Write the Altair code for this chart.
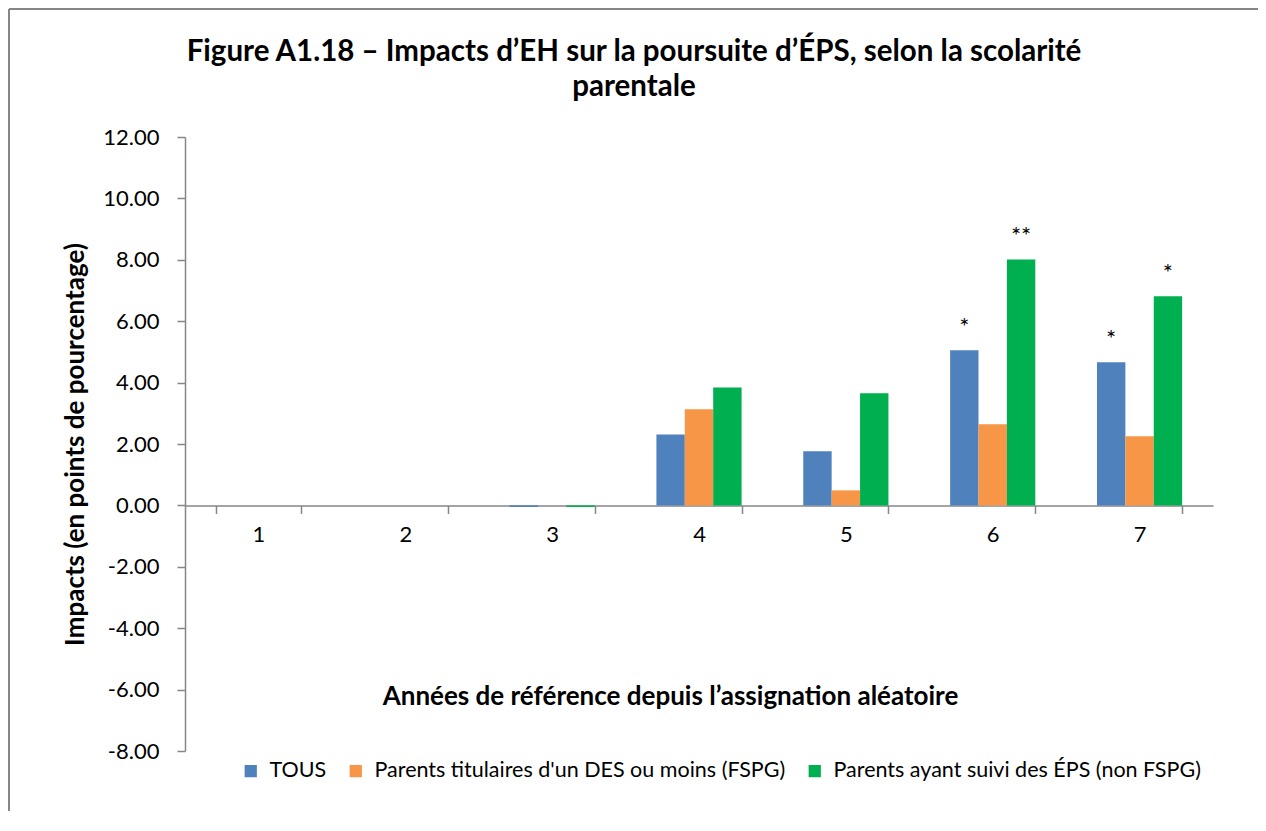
import altair as alt
import pandas as pd

years = ["1", "2", "3", "4", "5", "6", "7"]
series = [
    "TOUS",
    "Parents titulaires d'un DES ou moins (FSPG)",
    "Parents ayant suivi des ÉPS (non FSPG)",
]
tous = [0.0, 0.0, -0.05, 2.31, 1.76, 5.05, 4.66]
fspg = [0.0, 0.0, 0.0, 3.13, 0.49, 2.64, 2.25]
non_fspg = [0.0, 0.0, -0.05, 3.84, 3.65, 8.01, 6.81]
sig_tous = ["", "", "", "", "", "*", "*"]
sig_fspg = ["", "", "", "", "", "", ""]
sig_non_fspg = ["", "", "", "", "", "**", "*"]
colors = ["#4F81BD", "#F79646", "#00B050"]
y_ticks = [-8, -6, -4, -2, 0, 2, 4, 6, 8, 10, 12]
title_lines = [
    "Figure A1.18 – Impacts d’EH sur la poursuite d’ÉPS, selon la scolarité",
    "parentale",
]

rows = []
for s, vals, sigs in zip(series, [tous, fspg, non_fspg], [sig_tous, sig_fspg, sig_non_fspg]):
    for yr, v, sg in zip(years, vals, sigs):
        rows.append({"year": yr, "series": s, "value": v, "sig": sg})
df = pd.DataFrame(rows)

FONT = "Lato"
GRAY = "#868686"

x_enc = alt.X(
    "year:N",
    sort=years,
    scale=alt.Scale(paddingInner=0.42, paddingOuter=0.21),
    axis=alt.Axis(
        orient="bottom",
        offset=-245.6,
        tickBand="extent",
        tickSize=8,
        tickColor=GRAY,
        tickWidth=1.5,
        domainColor=GRAY,
        domainWidth=1.5,
        labelAngle=0,
        labelFontSize=22,
        labelFont=FONT,
        labelColor="black",
        labelPadding=11,
        title="Années de référence depuis l’assignation aléatoire",
        titleFont=FONT,
        titleFontSize=26,
        titleFontWeight="bold",
        titleColor="black",
        titleX=485,
        titleY=191,
        titleAlign="center",
        titleBaseline="middle",
        grid=False,
    ),
)
y_enc = alt.Y(
    "value:Q",
    scale=alt.Scale(domain=[-8, 12], nice=False, zero=False),
    axis=alt.Axis(
        values=y_ticks,
        labelExpr="datum.value < 0 ? '-' + format(-datum.value, '.2f') : format(datum.value, '.2f')",
        tickSize=8,
        tickColor=GRAY,
        tickWidth=1.5,
        domainColor=GRAY,
        domainWidth=1.5,
        labelFontSize=22,
        labelFont=FONT,
        labelColor="black",
        labelPadding=18,
        title="Impacts (en points de pourcentage)",
        titleFont=FONT,
        titleFontSize=26,
        titleFontWeight="bold",
        titleColor="black",
        titleX=-110,
        titleY=307,
        titleAlign="center",
        titleBaseline="middle",
        grid=False,
    ),
)
xoff = alt.XOffset("series:N", sort=series, scale=alt.Scale(domain=series))

bars = alt.Chart(df).mark_bar().encode(
    x=x_enc,
    y=y_enc,
    xOffset=xoff,
    color=alt.Color(
        "series:N",
        sort=series,
        scale=alt.Scale(domain=series, range=colors),
        legend=alt.Legend(
            orient="none",
            legendX=55,
            legendY=623,
            direction="horizontal",
            title=None,
            symbolType="square",
            symbolSize=150,
            symbolStrokeWidth=0,
            labelFont=FONT,
            labelFontSize=21.5,
            labelColor="black",
            labelOffset=8,
            columnPadding=18,
            labelLimit=600,
        ),
    ),
)

stars = alt.Chart(df).mark_text(
    dy=-22, fontSize=24, font=FONT, color="black", baseline="middle"
).encode(
    x=alt.X("year:N", sort=years),
    y=alt.Y("value:Q"),
    xOffset=xoff,
    text="sig:N",
)

one = pd.DataFrame({"k": [0]})
border_left = alt.Chart(one).mark_rule(color=GRAY, strokeWidth=2).encode(
    x=alt.value(-176), y=alt.value(-128), y2=alt.value(1000)
)
border_top = alt.Chart(one).mark_rule(color=GRAY, strokeWidth=2).encode(
    x=alt.value(-176), x2=alt.value(1400), y=alt.value(-128)
)

title1 = alt.Chart(one).mark_text(
    font=FONT, fontSize=29.5, fontWeight="bold", color="black", align="center", baseline="middle"
).encode(x=alt.value(449), y=alt.value(-85), text=alt.value(title_lines[0]))
title2 = alt.Chart(one).mark_text(
    font=FONT, fontSize=29.5, fontWeight="bold", color="black", align="center", baseline="middle"
).encode(x=alt.value(449), y=alt.value(-50), text=alt.value(title_lines[1]))

chart = alt.layer(border_left, border_top, bars, stars, title1, title2).properties(
    width=1028,
    height=614,
    autosize=alt.AutoSizeParams(type="none"),
    padding={"left": 177, "top": 129, "right": 45, "bottom": 60},
).configure_view(stroke=None)

chart.save("out.html", embed_options={"renderer": "svg", "actions": False})
